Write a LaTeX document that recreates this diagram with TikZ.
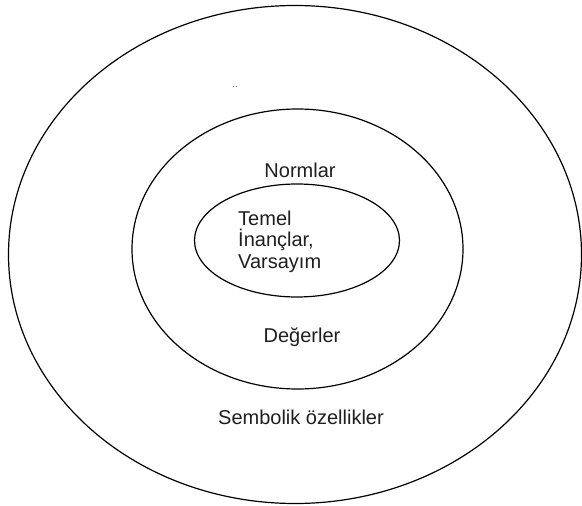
\documentclass[tikz,border=0pt]{standalone}
\usepackage{fontspec}
\setmainfont{Liberation Sans}
\usetikzlibrary{shapes.geometric}
\tikzset{
  ring/.style={draw=black, line width=1.2pt, ellipse, inner sep=0pt},
  lbl/.style={inner sep=0pt, text=black!88, font=\fontsize{20}{21.5}\selectfont},
}
\begin{document}
\begin{tikzpicture}[x=1pt,y=-1pt]
\useasboundingbox[fill=white] (0,0) rectangle (582,506);
\node[ring, minimum width=573pt, minimum height=498pt] (outer) at (295,254.5) {};
\node[ring, minimum width=331pt, minimum height=280pt] (middle) at (297.5,249) {};
\node[ring, minimum width=205pt, minimum height=113pt] (inner) at (297,240.5) {};
\node[lbl, anchor=base] (normlar) at (300,177.5) {Normlar};
\node[lbl, anchor=north west, align=left] (temel) at (238,210.5) {Temel\\İnançlar,\\Varsayım};
\node[lbl, anchor=base] (degerler) at (302,342.5) {Değerler};
\node[lbl, anchor=base] (sembolik) at (301,424.5) {Sembolik özellikler};
\node[inner sep=0pt, text=black!65, font=\fontsize{10}{10}\selectfont] (dots) at (235,87) {..};
\end{tikzpicture}
\end{document}
